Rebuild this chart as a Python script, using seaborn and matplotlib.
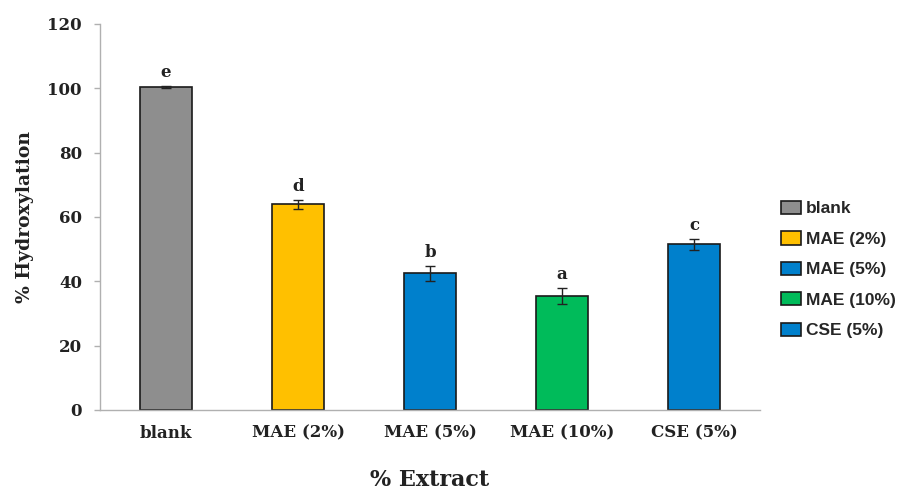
import matplotlib
matplotlib.use("Agg")
import matplotlib.pyplot as plt
import seaborn as sns
import pandas as pd
from matplotlib.patches import Patch

categories = ["blank", "MAE (2%)", "MAE (5%)", "MAE (10%)", "CSE (5%)"]
hydroxylation = [100.5, 63.9, 42.5, 35.5, 51.5]
errors = [0.3, 1.45, 2.4, 2.4, 1.65]
letters = ["e", "d", "b", "a", "c"]
colors = ["#8e8e8e", "#ffc000", "#0080cc", "#00bb5a", "#0080cc"]
yticks = [0, 20, 40, 60, 80, 100, 120]

sns.set_theme(style="white")
plt.rcParams["font.family"] = ["DejaVu Serif"]

df = pd.DataFrame({"Extract": categories, "Hydroxylation": hydroxylation})

fig = plt.figure(figsize=(9.05, 4.94), dpi=100)
ax = fig.add_axes([100 / 905, 1 - 410 / 494, 660 / 905, 386 / 494])

sns.barplot(data=df, x="Extract", y="Hydroxylation", hue="Extract",
            order=categories, hue_order=categories, palette=colors,
            width=0.4, edgecolor="#1a1a1a", linewidth=1.2, saturation=1,
            legend=False, ax=ax)

ax.errorbar(x=list(range(len(categories))), y=hydroxylation, yerr=errors,
            fmt="none", ecolor="#222222", elinewidth=1.0, capsize=3.5, capthick=1.0)

for i, (v, e, l) in enumerate(zip(hydroxylation, errors, letters)):
    ax.annotate(l, xy=(i, v + e), xytext=(0, 6.5), textcoords="offset points",
                ha="center", va="baseline", fontsize=12, fontweight="bold",
                color="#222222")

ax.set_ylim(0, 120)
ax.set_xlim(-0.5, 4.5)
ax.set_yticks(yticks)
ax.set_yticklabels([str(t) for t in yticks], fontsize=12, fontweight="bold", color="#222222")
ax.set_xticks(range(len(categories)))
ax.set_xticklabels(categories, fontsize=12, fontweight="bold", color="#222222")
ax.tick_params(axis="y", length=4, width=1, color="#b0b0b0", pad=9, direction="out", left=True)
ax.tick_params(axis="x", length=0, pad=10.5)

for s in ["top", "right"]:
    ax.spines[s].set_visible(False)
for s in ["left", "bottom"]:
    ax.spines[s].set_color("#b0b0b0")
    ax.spines[s].set_linewidth(1.0)

ax.set_xlabel("% Extract", fontsize=16, fontweight="bold", color="#222222")
ax.xaxis.set_label_coords(0.5, -0.152)
ax.set_ylabel("% Hydroxylation", fontsize=13.5, fontweight="bold", color="#222222")
ax.yaxis.set_label_coords(-0.1, 0.5)

handles = [Patch(facecolor=c, edgecolor="#1a1a1a", linewidth=1.2) for c in colors]
fig.legend(handles, categories, loc="center left",
           bbox_to_anchor=(765 / 905, 1 - 269.5 / 494), bbox_transform=fig.transFigure,
           frameon=False, prop={"family": "Liberation Sans", "weight": "bold", "size": 12.5},
           handlelength=1.15, handleheight=0.8, handletextpad=0.3, labelspacing=0.85,
           borderpad=0.4)

fig.savefig("out.png", dpi=100)
